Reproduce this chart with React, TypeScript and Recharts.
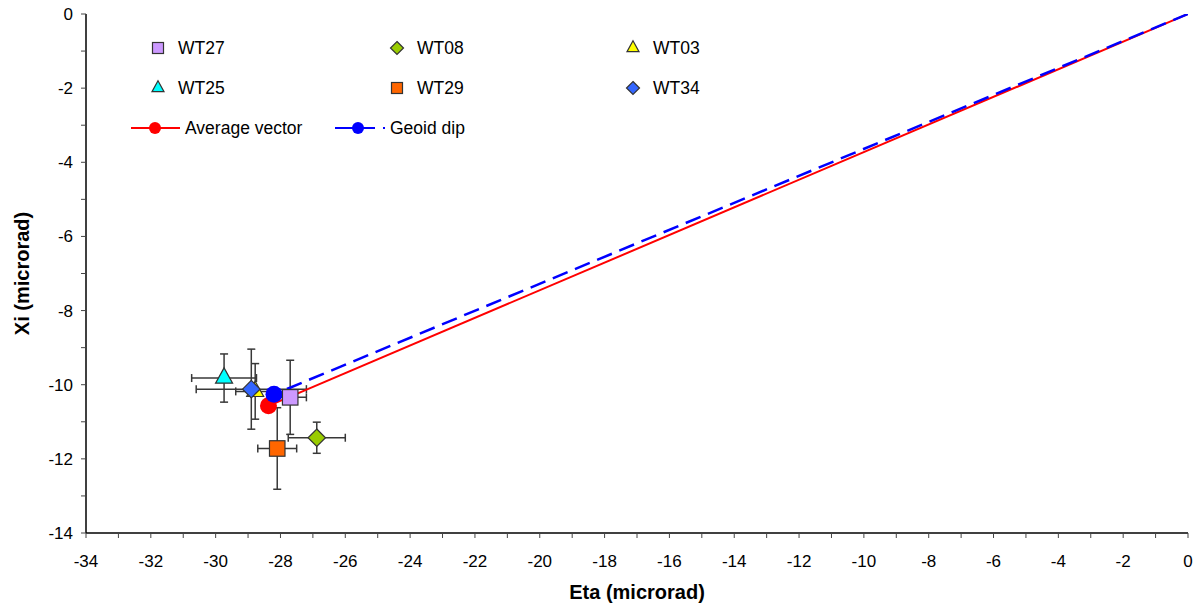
import React from 'react';
import {
  ScatterChart,
  Scatter,
  XAxis,
  YAxis,
  ErrorBar,
  Legend
} from 'recharts';

// stations, in legend order
const stations = ['WT27', 'WT08', 'WT03', 'WT25', 'WT29', 'WT34'];
const etaValues = [-27.7, -26.88, -28.78, -29.74, -28.1, -28.9];
const xiValues = [-10.34, -11.43, -10.18, -9.82, -11.72, -10.12];
const etaErrors = [0.5, 0.88, 0.6, 1.0, 0.6, 1.7];
const xiErrors = [1.0, 0.42, 0.75, 0.65, 1.1, 1.08];

// vectors from the origin
const averageEta = [0, -28.37];
const averageXi = [0, -10.57];
const geoidEta = [0, -28.2];
const geoidXi = [0, -10.26];

const etaTicks = Array.from({ length: 35 }, (_, i) => -34 + i);
const xiTicks = Array.from({ length: 15 }, (_, i) => -14 + i);

const FONT = '"Liberation Sans", Arial, sans-serif';

const styles: Record<string, { kind: string; fill: string }> = {
  WT27: { kind: 'square', fill: '#cc99ff' },
  WT08: { kind: 'diamond', fill: '#99cc00' },
  WT03: { kind: 'triangle', fill: '#ffff00' },
  WT25: { kind: 'triangle', fill: '#00ffff' },
  WT29: { kind: 'square', fill: '#ff6600' },
  WT34: { kind: 'diamond', fill: '#3366ff' }
};

// draw order in the plot (WT27 sits on top of the vectors)
const drawOrder = ['WT03', 'WT34', 'WT25', 'WT29', 'WT08'];

function stationData(name: string) {
  const i = stations.indexOf(name);
  return [{ eta: etaValues[i], xi: xiValues[i], etaErr: etaErrors[i], xiErr: xiErrors[i] }];
}

function vectorData(eta: number[], xi: number[]) {
  return eta.map((e, i) => ({ eta: e, xi: xi[i], end: i === eta.length - 1 }));
}

function MarkerGlyph({ cx, cy, kind, fill, s }: any) {
  const stroke = '#333';
  const sw = 1.2;
  if (kind === 'square') {
    return <rect x={cx - s / 2} y={cy - s / 2} width={s} height={s} fill={fill} stroke={stroke} strokeWidth={sw} />;
  }
  if (kind === 'diamond') {
    const h = s / 2 + 1;
    return (
      <polygon
        points={`${cx},${cy - h} ${cx + h},${cy} ${cx},${cy + h} ${cx - h},${cy}`}
        fill={fill}
        stroke={stroke}
        strokeWidth={sw}
      />
    );
  }
  if (kind === 'triangle') {
    const h = s * 0.9;
    return (
      <polygon
        points={`${cx},${cy - (h * 2) / 3} ${cx + s / 2},${cy + h / 3} ${cx - s / 2},${cy + h / 3}`}
        fill={fill}
        stroke={stroke}
        strokeWidth={sw}
      />
    );
  }
  return <circle cx={cx} cy={cy} r={s / 2} fill={fill} />;
}

const stationShape = (name: string) => (props: any) => {
  const st = styles[name];
  return <MarkerGlyph cx={props.cx} cy={props.cy} kind={st.kind} fill={st.fill} s={st.kind === 'triangle' ? 17 : 15.5} />;
};

const vectorShape = (color: string) => (props: any) =>
  props.payload && props.payload.end ? <circle cx={props.cx} cy={props.cy} r={8.5} fill={color} /> : <g />;

function ChartLegend() {
  const colLeft = [24, 263, 499];
  const rowTop = [0, 40];
  return (
    <div style={{ position: 'relative', width: 640, height: 120, fontFamily: FONT, fontSize: 17.5, color: '#000' }}>
      {stations.map((name, i) => {
        const st = styles[name];
        const row = Math.floor(i / 3);
        const col = i % 3;
        return (
          <div key={name} style={{ position: 'absolute', left: colLeft[col], top: rowTop[row], height: 36, display: 'flex', alignItems: 'center' }}>
            <svg width={28} height={36} style={{ display: 'block' }}>
              <MarkerGlyph cx={14} cy={18} kind={st.kind} fill={st.fill} s={st.kind === 'triangle' ? 12 : 11} />
            </svg>
            <span style={{ marginLeft: 6 }}>{name}</span>
          </div>
        );
      })}
      <div style={{ position: 'absolute', left: 0, top: 80, height: 36, display: 'flex', alignItems: 'center' }}>
        <svg width={62} height={36} style={{ display: 'block' }}>
          <line x1={11} y1={18} x2={60} y2={18} stroke="#ff0000" strokeWidth={2} />
          <circle cx={35} cy={18} r={6} fill="#ff0000" />
        </svg>
        <span style={{ marginLeft: 3 }}>Average vector</span>
      </div>
      <div style={{ position: 'absolute', left: 205, top: 80, height: 36, display: 'flex', alignItems: 'center' }}>
        <svg width={62} height={36} style={{ display: 'block' }}>
          <line x1={10} y1={18} x2={50} y2={18} stroke="#0000ff" strokeWidth={2} />
          <circle cx={33} cy={18} r={6} fill="#0000ff" />
          <line x1={58} y1={18} x2={60} y2={18} stroke="#0000ff" strokeWidth={2} />
        </svg>
        <span style={{ marginLeft: 3 }}>Geoid dip</span>
      </div>
    </div>
  );
}

const evenLabel = (v: number) => (v % 2 === 0 ? String(v) : '');

export default function App() {
  const tickStyle = { fontFamily: FONT, fontSize: 17, fill: '#000' };
  const axisLine = { stroke: '#000', strokeWidth: 1.5 };
  const tickLine = { stroke: '#444', strokeWidth: 1 };
  return (
    <div style={{ position: 'absolute', left: 0, top: 0, width: 1193, height: 606, background: '#fff' }}>
      <ScatterChart width={1193} height={606} margin={{ top: 14, right: 5, bottom: 0, left: 0 }}>
        <XAxis
          type="number"
          dataKey="eta"
          domain={[-34, 0]}
          ticks={etaTicks}
          interval={0}
          tickFormatter={evenLabel}
          allowDataOverflow
          height={73}
          tickSize={5}
          tickMargin={17}
          tick={tickStyle}
          axisLine={axisLine}
          tickLine={tickLine}
          label={{ value: 'Eta (microrad)', position: 'insideBottom', offset: 7, style: { fontFamily: FONT, fontSize: 20, fontWeight: 'bold', fill: '#000' } }}
        />
        <YAxis
          type="number"
          dataKey="xi"
          domain={[-14, 0]}
          ticks={xiTicks}
          interval={0}
          tickFormatter={evenLabel}
          allowDataOverflow
          width={86}
          tickSize={5}
          tickMargin={8}
          tick={tickStyle}
          axisLine={axisLine}
          tickLine={tickLine}
          label={{ value: 'Xi (microrad)', angle: -90, position: 'insideLeft', offset: 22, style: { textAnchor: 'middle', fontFamily: FONT, fontSize: 20, fontWeight: 'bold', fill: '#000' } }}
        />
        <XAxis xAxisId="top" orientation="top" type="number" domain={[-34, 0]} height={0} tick={false} tickLine={false} axisLine={{ stroke: '#777', strokeWidth: 1.5 }} />
        <YAxis yAxisId="right" orientation="right" type="number" domain={[-14, 0]} width={0} tick={false} tickLine={false} axisLine={{ stroke: '#777', strokeWidth: 1.5 }} />
        <Legend
          layout="vertical"
          align="center"
          verticalAlign="middle"
          wrapperStyle={{ left: 120, top: 30, width: 640, height: 120 }}
          content={() => <ChartLegend />}
        />
        {drawOrder.map((name) => (
          <Scatter key={name} name={name} data={stationData(name)} shape={stationShape(name)} isAnimationActive={false}>
            <ErrorBar dataKey="etaErr" direction="x" width={4} stroke="#383838" strokeWidth={1.5} />
            <ErrorBar dataKey="xiErr" direction="y" width={4} stroke="#383838" strokeWidth={1.5} />
          </Scatter>
        ))}
        <Scatter
          name="Average vector"
          data={vectorData(averageEta, averageXi)}
          line={{ stroke: '#ff0000', strokeWidth: 2 }}
          shape={vectorShape('#ff0000')}
          isAnimationActive={false}
        />
        <Scatter
          name="Geoid dip"
          data={vectorData(geoidEta, geoidXi)}
          line={{ stroke: '#0000ff', strokeWidth: 2.5, strokeDasharray: '16 8' }}
          shape={vectorShape('#0000ff')}
          isAnimationActive={false}
        />
        <Scatter name="WT27" data={stationData('WT27')} shape={stationShape('WT27')} isAnimationActive={false}>
          <ErrorBar dataKey="etaErr" direction="x" width={4} stroke="#383838" strokeWidth={1.5} />
          <ErrorBar dataKey="xiErr" direction="y" width={4} stroke="#383838" strokeWidth={1.5} />
        </Scatter>
      </ScatterChart>
    </div>
  );
}
